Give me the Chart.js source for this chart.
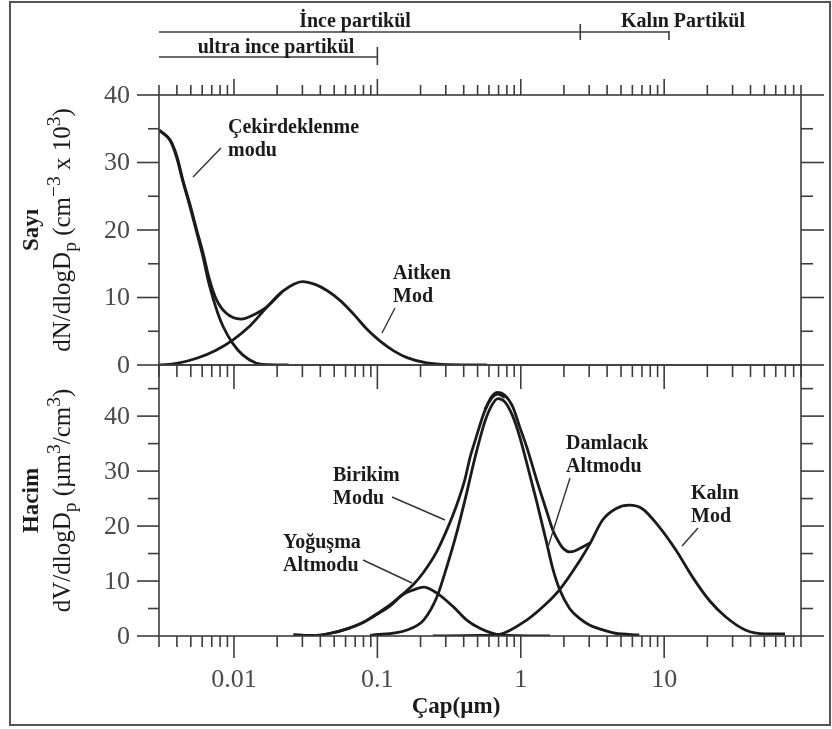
<!DOCTYPE html>
<html>
<head>
<meta charset="utf-8">
<script src="https://cdn.jsdelivr.net/npm/chart.js@4.4.0/dist/chart.umd.min.js"></script>
<style>
  html, body { margin: 0; padding: 0; background: #fff; }
  #wrap { position: relative; width: 832px; height: 729px; }
  #wrap canvas { position: absolute; left: 0; top: 0; }
</style>
</head>
<body>
<div id="wrap">
  <canvas id="sayi" width="832" height="729"></canvas>
  <canvas id="hacim" width="832" height="729"></canvas>
</div>
<script>
// --- Sayı paneli (dN/dlogDp) ---
const cekX = [0.003, 0.0036, 0.004, 0.0044, 0.0049, 0.0055, 0.0061, 0.0067, 0.0077, 0.0084, 0.0098, 0.0115, 0.0142, 0.0175, 0.024];
const cekY = [34.8, 33.2, 30.6, 27.2, 23.7, 19.6, 15.9, 12.0, 7.7, 5.7, 3.2, 1.5, 0.3, 0.05, 0];

const aitkenX = [0.003, 0.004, 0.0055, 0.0075, 0.0098, 0.0128, 0.0167, 0.0218, 0.030, 0.0371, 0.0448, 0.0554, 0.0685, 0.0847, 0.105, 0.130, 0.161, 0.221, 0.32, 0.58];
const aitkenY = [0, 0.25, 1.0, 2.2, 3.7, 5.7, 8.4, 10.9, 12.35, 11.9, 11.0, 9.5, 7.5, 5.3, 3.5, 2.1, 1.1, 0.3, 0.05, 0];

const sayiToplamX = [0.003, 0.0036, 0.004, 0.0044, 0.0049, 0.0055, 0.0061, 0.0067, 0.0075, 0.0088, 0.0112, 0.0142, 0.0167, 0.0218];
const sayiToplamY = [34.8, 33.3, 30.9, 27.4, 24.0, 20.0, 16.5, 12.9, 9.8, 7.7, 6.8, 7.6, 8.5, 10.9];

// --- Hacim paneli (dV/dlogDp) ---
const yogusmaX = [0.026, 0.036, 0.047, 0.063, 0.08, 0.1, 0.123, 0.15, 0.179, 0.21, 0.26, 0.339, 0.42, 0.519, 0.678, 0.98, 1.6];
const yogusmaY = [0.2, 0.1, 0.5, 1.4, 2.5, 4.0, 5.5, 7.5, 8.4, 8.9, 7.8, 5.3, 2.9, 1.4, 0.3, 0.05, 0];

const damlacikX = [0.089, 0.161, 0.21, 0.26, 0.305, 0.357, 0.408, 0.48, 0.562, 0.629, 0.692, 0.774, 0.879, 0.984, 1.10, 1.29, 1.52, 1.67, 1.87, 2.19, 2.57, 3.01, 3.54, 4.57, 6.7];
const damlacikY = [0.1, 1.1, 2.9, 7.1, 12.6, 18.7, 24.7, 32.5, 39.0, 42.0, 43.2, 42.6, 40.0, 36.2, 31.5, 24.5, 16.8, 12.3, 8.4, 5.0, 3.2, 2.0, 1.3, 0.5, 0.2];

const birikimX = [0.026, 0.036, 0.047, 0.063, 0.08, 0.1, 0.123, 0.15, 0.179, 0.21, 0.26, 0.305, 0.357, 0.408, 0.443, 0.48, 0.562, 0.629, 0.692, 0.774];
const birikimY = [0.2, 0.1, 0.5, 1.4, 2.5, 4.1, 5.7, 7.6, 9.4, 11.6, 15.4, 19.3, 23.8, 28.5, 32.5, 35.5, 41.0, 43.3, 44.0, 43.4];

const kalinX = [0.244, 0.519, 0.71, 1.10, 1.51, 1.86, 2.59, 3.04, 3.72, 4.63, 5.72, 7.0, 9.2, 12.1, 15.7, 20.6, 26.8, 36.8, 50.6, 69.6];
const kalinY = [0, 0.1, 0.3, 2.9, 5.9, 8.4, 13.8, 16.8, 21.1, 23.2, 23.8, 23.2, 19.9, 15.6, 10.8, 6.5, 3.5, 1.1, 0.4, 0.4];

const hacimToplamX = [0.562, 0.629, 0.692, 0.774, 0.879, 0.984, 1.10, 1.29, 1.52, 1.67, 1.87, 2.0, 2.19, 2.4, 2.7, 3.04];
const hacimToplamY = [41.2, 43.6, 44.3, 43.8, 41.7, 38.0, 34.4, 28.4, 22.6, 19.3, 16.8, 15.8, 15.3, 15.5, 16.2, 16.9];

// eksenler
const xMin = 0.003, xMax = 90;
const xMajor = [0.01, 0.1, 1, 10];
const xLabels = ['0.01', '0.1', '1', '10'];
const sayiYMajor = [0, 10, 20, 30, 40];
const sayiYMinor = [5, 15, 25, 35];
const hacimYMajor = [0, 10, 20, 30, 40];
const hacimYMinor = [5, 15, 25, 35, 45];
const hacimYMax = 49.3;

const ink = '#1b1b1b';
const axisCol = '#3c3c3c';
const tickTextCol = '#4a4a4a';
const serif = '"Liberation Serif", "Times New Roman", serif';

// log eksen icin ara tikler
const xMinor = [];
[0.001, 0.01, 0.1, 1, 10].forEach(d => {
  for (let m = 2; m <= 9; m++) {
    const v = Number((m * d).toPrecision(3));
    if (v >= xMin - 1e-9 && v <= xMax + 1e-9) xMinor.push(v);
  }
});

function line(ctx, x1, y1, x2, y2) {
  ctx.beginPath(); ctx.moveTo(x1, y1); ctx.lineTo(x2, y2); ctx.stroke();
}

function richVertical(ctx, parts, baseX, cy, size) {
  ctx.save();
  const small = size * 0.78;
  let total = 0;
  parts.forEach(p => {
    ctx.font = (p[1] ? small : size) + 'px ' + serif;
    p.w = ctx.measureText(p[0]).width;
    total += p.w;
  });
  ctx.translate(baseX, cy);
  ctx.rotate(-Math.PI / 2);
  ctx.textBaseline = 'alphabetic';
  ctx.textAlign = 'left';
  ctx.fillStyle = ink;
  let x = -total / 2;
  parts.forEach(p => {
    ctx.font = (p[1] ? small : size) + 'px ' + serif;
    const dy = p[1] === 'sub' ? size * 0.24 : p[1] === 'sup' ? -size * 0.4 : 0;
    ctx.fillText(p[0], x, dy);
    x += p.w;
  });
  ctx.restore();
}

function boldText(ctx, txt, x, y, size, align) {
  ctx.font = 'bold ' + size + 'px ' + serif;
  ctx.textAlign = align || 'left';
  ctx.textBaseline = 'middle';
  ctx.fillStyle = ink;
  ctx.fillText(txt, x, y);
}

const framePlugin = {
  id: 'frame',
  afterDraw(chart, args, o) {
    const ctx = chart.ctx;
    const xs = chart.scales.x, ys = chart.scales.y;
    const a = chart.chartArea;
    ctx.save();
    ctx.strokeStyle = axisCol;
    ctx.lineWidth = 1.6;
    ctx.strokeRect(a.left, a.top, a.right - a.left, a.bottom - a.top);

    // x tikleri
    const isMaj = v => xMajor.includes(v);
    xMinor.concat(xMajor).forEach(v => {
      const px = xs.getPixelForValue(v);
      if (o.xTop) line(ctx, px, a.top, px, a.top - (isMaj(v) ? o.xTop[1] : o.xTop[0]));
      line(ctx, px, a.bottom, px, a.bottom + (isMaj(v) ? o.xBottom[1] : o.xBottom[0]));
    });
    // y tikleri
    o.yMajor.forEach(v => {
      const py = ys.getPixelForValue(v);
      line(ctx, a.left - 22, py, a.left, py);
      line(ctx, a.right, py, a.right + 23, py);
    });
    o.yMinor.forEach(v => {
      const py = ys.getPixelForValue(v);
      line(ctx, a.left - 11, py, a.left, py);
      line(ctx, a.right, py, a.right + 12, py);
    });
    ctx.fillStyle = tickTextCol;
    ctx.font = '26px ' + serif;
    ctx.textAlign = 'right';
    ctx.textBaseline = 'middle';
    o.yMajor.forEach(v => {
      ctx.fillText(String(v), a.left - 29, ys.getPixelForValue(v) + 1);
    });
    if (o.xLabels) {
      ctx.textAlign = 'center';
      xMajor.forEach((v, i) => ctx.fillText(xLabels[i], xs.getPixelForValue(v), a.bottom + 44));
      boldText(ctx, 'Çap(µm)', 456, 707, 23, 'center');
    }

    // eksen basliklari
    ctx.save();
    ctx.translate(40, (a.top + a.bottom) / 2);
    ctx.rotate(-Math.PI / 2);
    boldText(ctx, o.kind, 0, -8, 23, 'center');
    ctx.restore();
    richVertical(ctx, o.title, 70, (a.top + a.bottom) / 2, 25);

    // etiketler ve oklar
    ctx.strokeStyle = '#333';
    ctx.lineWidth = 1.4;
    o.notes.forEach(n => {
      n.lines.forEach((t, i) => boldText(ctx, t, n.x, n.y + i * 23, 20));
      line(ctx, n.p[0], n.p[1], n.p[2], n.p[3]);
    });

    if (o.sizeBars) {
      ctx.strokeStyle = axisCol;
      ctx.lineWidth = 1.6;
      const x0 = xs.getPixelForValue(0.003);
      const xF = xs.getPixelForValue(2.6);
      const xC = xs.getPixelForValue(10.8);
      const xU = xs.getPixelForValue(0.1);
      line(ctx, x0, 32, xC, 32);
      line(ctx, xF, 24, xF, 40);
      line(ctx, xC, 31, xC, 40);
      line(ctx, x0, 57, xU, 57);
      line(ctx, xU, 47, xU, 65);
      boldText(ctx, 'İnce partikül', 355, 22, 20, 'center');
      boldText(ctx, 'Kalın Partikül', 683, 22, 20, 'center');
      boldText(ctx, 'ultra ince partikül', 276, 48, 20, 'center');
      // dis cerceve
      ctx.strokeStyle = '#555';
      ctx.lineWidth = 2;
      ctx.strokeRect(10, 2, 820, 723);
    }
    ctx.restore();
  }
};

function curve(xArr, yArr) {
  return {
    data: xArr.map((x, i) => ({ x: x, y: yArr[i] })),
    borderColor: ink,
    borderWidth: 2.8,
    pointRadius: 0,
    fill: false,
    cubicInterpolationMode: 'monotone'
  };
}

function panel(id, datasets, yMax, pad, frameOpts) {
  return new Chart(document.getElementById(id), {
    type: 'line',
    data: { datasets: datasets },
    options: {
      responsive: false,
      animation: false,
      devicePixelRatio: 1,
      layout: { padding: pad },
      plugins: { legend: { display: false }, tooltip: { enabled: false }, frame: frameOpts },
      scales: {
        x: { type: 'logarithmic', min: xMin, max: xMax, display: false },
        y: { type: 'linear', min: 0, max: yMax, display: false }
      }
    },
    plugins: [framePlugin]
  });
}

panel('sayi',
  [curve(cekX, cekY), curve(aitkenX, aitkenY), curve(sayiToplamX, sayiToplamY)],
  40, { left: 159, right: 31, top: 95, bottom: 364 },
  {
    kind: 'Sayı',
    title: [['dN/dlogD'], ['p', 'sub'], [' (cm'], ['−3', 'sup'], [' x 10'], ['3', 'sup'], [')']],
    yMajor: sayiYMajor, yMinor: sayiYMinor,
    xTop: [10, 16], xBottom: [12, 24], xLabels: false, sizeBars: true,
    notes: [
      { lines: ['Çekirdeklenme', 'modu'], x: 228, y: 128, p: [221, 148, 193, 177] },
      { lines: ['Aitken', 'Mod'], x: 393, y: 274, p: [395, 308, 382, 333] }
    ]
  });

panel('hacim',
  [curve(yogusmaX, yogusmaY), curve(damlacikX, damlacikY), curve(birikimX, birikimY),
   curve(kalinX, kalinY), curve(hacimToplamX, hacimToplamY)],
  hacimYMax, { left: 159, right: 31, top: 365, bottom: 93 },
  {
    kind: 'Hacim',
    title: [['dV/dlogD'], ['p', 'sub'], [' (µm'], ['3', 'sup'], ['/cm'], ['3', 'sup'], [')']],
    yMajor: hacimYMajor, yMinor: hacimYMinor,
    xTop: null, xBottom: [11, 22], xLabels: true, sizeBars: false,
    notes: [
      { lines: ['Birikim', 'Modu'], x: 333, y: 476, p: [392, 497, 445, 520] },
      { lines: ['Yoğuşma', 'Altmodu'], x: 283, y: 543, p: [363, 560, 412, 583] },
      { lines: ['Damlacık', 'Altmodu'], x: 566, y: 444, p: [570, 478, 548, 547] },
      { lines: ['Kalın', 'Mod'], x: 691, y: 494, p: [698, 528, 682, 546] }
    ]
  });
</script>
</body>
</html>
